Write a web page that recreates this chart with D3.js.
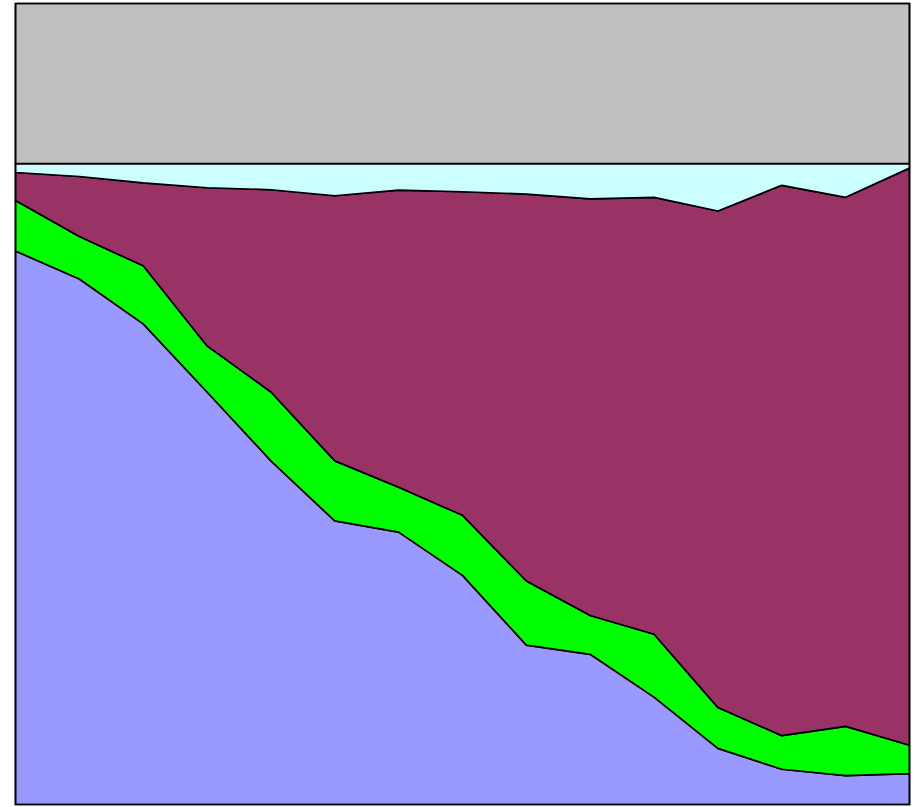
<!DOCTYPE html>
<html>
<head>
<meta charset="utf-8">
<script src="https://cdn.jsdelivr.net/npm/d3@7"></script>
<style>
  html, body { margin: 0; padding: 0; background: #fff; }
</style>
</head>
<body>
<div id="chart"></div>
<script>
const categories = [1, 2, 3, 4, 5, 6, 7, 8, 9, 10, 11, 12, 13, 14, 15];

// share of each series per category (percent, stacked to 100)
const seriesBlue   = [69.1, 65.6, 60.0, 51.5, 42.9, 35.4, 34.0, 28.6, 19.9, 18.75, 13.4, 7.0, 4.4, 3.6, 3.85];
const seriesGreen  = [6.3, 5.3, 7.25, 5.75, 8.6, 7.5, 5.6, 7.5, 8.0, 4.85, 7.85, 5.1, 4.2, 6.15, 3.55];
const seriesPurple = [3.5, 7.5, 10.35, 19.75, 25.25, 33.1, 37.1, 40.4, 48.3, 52.0, 54.55, 62.0, 68.7, 66.05, 72.05];
const seriesCyan   = [1.1, 1.6, 2.4, 3.0, 3.25, 4.0, 3.3, 3.5, 3.8, 4.4, 4.2, 5.9, 2.7, 4.2, 0.55];
const seriesGray   = [20, 20, 20, 20, 20, 20, 20, 20, 20, 20, 20, 20, 20, 20, 20];

const seriesNames = ["blue", "green", "purple", "cyan", "gray"];
const seriesColors = ["#9999FF", "#00FF00", "#993366", "#CCFFFF", "#C0C0C0"];

const W = 918, H = 807;
const margin = {top: 3.5, right: 8.5, bottom: 2.5, left: 15.5};
const width = W - margin.left - margin.right,
      height = H - margin.top - margin.bottom;

const rows = categories.map((c, i) => ({
  cat: c,
  blue: seriesBlue[i],
  green: seriesGreen[i],
  purple: seriesPurple[i],
  cyan: seriesCyan[i],
  gray: seriesGray[i]
}));

const stacked = d3.stack().keys(seriesNames)(rows);

const svg = d3.select("#chart")
  .append("svg")
  .attr("width", W)
  .attr("height", H)
  .append("g")
  .attr("transform", `translate(${margin.left},${margin.top})`);

const x = d3.scalePoint()
  .domain(categories)
  .range([0, width]);

const y = d3.scaleLinear()
  .domain([0, 100])
  .range([height, 0]);

const area = d3.area()
  .x(d => x(d.data.cat))
  .y0(d => y(d[0]))
  .y1(d => y(d[1]));

svg.selectAll(".layer")
  .data(stacked)
  .enter()
  .append("path")
  .attr("class", "layer")
  .attr("d", area)
  .attr("fill", (d, i) => seriesColors[i])
  .attr("stroke", "#000")
  .attr("stroke-width", 1.7)
  .attr("stroke-linejoin", "round");

// plot frame
svg.append("rect")
  .attr("x", 0)
  .attr("y", 0)
  .attr("width", width)
  .attr("height", height)
  .attr("fill", "none")
  .attr("stroke", "#000")
  .attr("stroke-width", 1.5);
</script>
</body>
</html>
